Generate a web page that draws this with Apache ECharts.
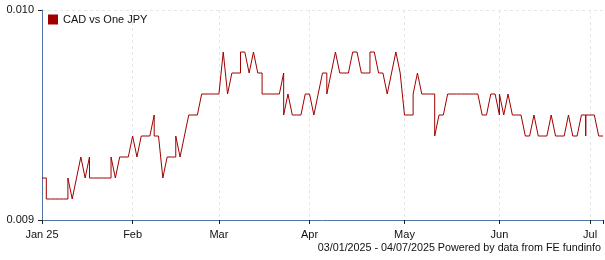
<!DOCTYPE html>
<html>
<head>
<meta charset="utf-8">
<script src="https://cdn.jsdelivr.net/npm/echarts@6/dist/echarts.min.js"></script>
<style>
html,body{margin:0;padding:0;background:#fff;}
#c{width:605px;height:260px;}
</style>
</head>
<body>
<div id="c"></div>
<script>
// Trading days (weekdays) from 03/01/2025 to 04/07/2025
const startDate = "2025-01-03";
const endDate = "2025-07-04";

// Closing values, one per weekday
const values = [
  0.0092,
  0.0091,0.0091,0.0091,0.0091,0.0091,
  0.0092,0.0091,0.0092,0.0093,0.0092,
  0.0092,0.0092,0.0092,0.0092,0.0092,
  0.0093,0.0092,0.0093,0.0093,0.0093,
  0.0094,0.0093,0.0094,0.0094,0.0094,
  0.0094,0.0094,0.0092,0.0093,0.0093,
  0.0094,0.0093,0.0094,0.0095,0.0095,
  0.0095,0.0096,0.0096,0.0096,0.0096,
  0.0096,0.0098,0.0096,0.0097,0.0097,
  0.0098,0.0098,0.0097,0.0098,0.0097,
  0.0096,0.0096,0.0096,0.0096,0.0096,
  0.0095,0.0096,0.0095,0.0095,0.0095,
  0.0096,0.0096,0.0095,0.0096,0.0097,
  0.0096,0.0097,0.0098,0.0097,0.0097,
  0.0097,0.0098,0.0098,0.0097,0.0097,
  0.0098,0.0098,0.0097,0.0097,0.0096,
  0.0097,0.0098,0.0097,0.0095,0.0095,
  0.0096,0.0097,0.0096,0.0096,0.0096,
  0.0094,0.0095,0.0095,0.0096,0.0096,
  0.0096,0.0096,0.0096,0.0096,0.0096,
  0.0096,0.0095,0.0095,0.0096,0.0096,
  0.0096,0.0095,0.0096,0.0095,0.0095,
  0.0095,0.0094,0.0094,0.0095,0.0094,
  0.0094,0.0094,0.0095,0.0094,0.0094,
  0.0094,0.0095,0.0094,0.0094,0.0095,
  0.0095,0.0095,0.0095,0.0094,0.0094
];

// Weekend values, drawn at the following Monday
const weekendMondays = ["2025-01-06","2025-01-13","2025-01-20","2025-01-27","2025-02-10","2025-02-17",
  "2025-03-10","2025-03-17","2025-03-24","2025-04-07","2025-04-21","2025-05-05","2025-05-12",
  "2025-06-02","2025-06-30"];
const weekendValues = [[0.0092],[0.0091],[0.0093],[0.0092],[0.0095],[0.0093],
  [0.0097],[0.0097],[0.0097],[0.0097],[0.0097],[0.0095],[0.0096],
  [0.0095],[0.0095,0.0094]];

const monthLabels = ["Jan 25","Feb","Mar","Apr","May","Jun","Jul"];
const yTicks = [0.009, 0.010];
const seriesName = "CAD vs One JPY";
const footer = "03/01/2025 - 04/07/2025 Powered by data from FE fundinfo";

// build weekday categories
function fmt(d){
  const m = String(d.getUTCMonth()+1).padStart(2,'0');
  const dd = String(d.getUTCDate()).padStart(2,'0');
  return d.getUTCFullYear()+'-'+m+'-'+dd;
}
const dates = [];
for (let d = new Date(startDate+"T00:00:00Z"); d <= new Date(endDate+"T00:00:00Z"); d.setUTCDate(d.getUTCDate()+1)) {
  const wd = d.getUTCDay();
  if (wd !== 0 && wd !== 6) dates.push(fmt(d));
}
// first trading day of each month
const labelIdx = {};
let lastMonth = null, k = 0;
dates.forEach((s, i) => {
  const m = s.slice(0,7);
  if (m !== lastMonth) { labelIdx[i] = monthLabels[k++]; lastMonth = m; }
});
const tickIdx = Object.assign({}, labelIdx);
tickIdx[dates.length-1] = "";

const data = [];
dates.forEach((s, i) => {
  const w = weekendMondays.indexOf(s);
  if (w >= 0) weekendValues[w].forEach(v => data.push([i, v]));
  data.push([i, values[i]]);
});

const axisBlue = '#4f76a6';
const font = '"Liberation Sans", Arial, sans-serif';
const chart = echarts.init(document.getElementById('c'), null, {renderer:'canvas'});
chart.setOption({
  animation: false,
  backgroundColor: '#fff',
  textStyle: {fontFamily: font},
  grid: {left: 42, right: 2, top: 10, bottom: 40, outerBoundsMode: 'none'},
  legend: {
    show: true, left: 48, top: 14, padding: 0, icon: 'rect', itemWidth: 10, itemHeight: 10,
    itemGap: 5,
    textStyle: {fontSize: 11, color: '#111', fontFamily: font},
    data: [seriesName]
  },
  xAxis: {
    type: 'category', data: dates, boundaryGap: false,
    axisLine: {lineStyle: {color: axisBlue, width: 1}},
    axisTick: {show: true, length: 4, interval: (i) => i in tickIdx, lineStyle: {color: '#222'}},
    axisLabel: {
      interval: (i) => i in labelIdx, margin: 9, fontSize: 11, color: '#111', fontFamily: font,
      formatter: (v, i) => labelIdx[i] !== undefined ? labelIdx[i] : ''
    },
    splitLine: {show: true, interval: (i) => i in labelIdx, lineStyle: {color: '#e6e6e6', type: [3,3], width: 1}}
  },
  yAxis: {
    type: 'value', min: yTicks[0], max: yTicks[1], interval: 0.001,
    axisLine: {show: true, lineStyle: {color: axisBlue, width: 1}},
    axisTick: {show: true, length: 4, lineStyle: {color: '#222'}},
    axisLabel: {margin: 8, fontSize: 11, color: '#111', fontFamily: font, formatter: (v) => v.toFixed(3)},
    splitLine: {show: true, lineStyle: {color: '#e6e6e6', type: [3,3], width: 1}}
  },
  series: [{
    name: seriesName, type: 'line', data: data, showSymbol: false, symbol: 'none',
    lineStyle: {color: '#a00000', width: 1}, itemStyle: {color: '#a00000'}
  }],
  graphic: [{
    type: 'text', right: 4, bottom: 6,
    style: {text: footer, fontSize: 10.75, fill: '#111', fontFamily: font}
  }]
});
</script>
</body>
</html>
